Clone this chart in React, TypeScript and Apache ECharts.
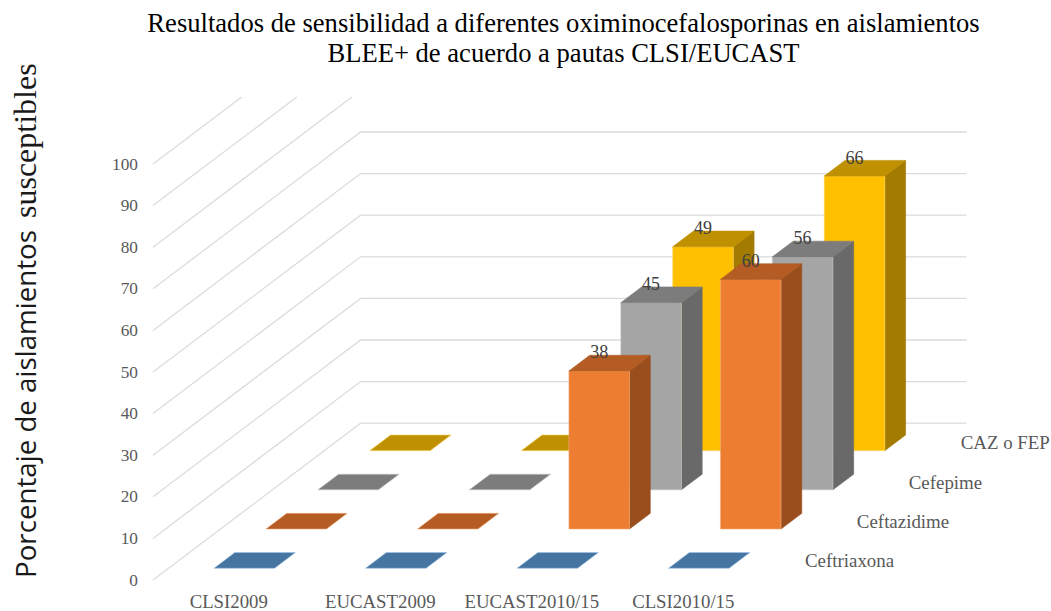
import React, { useEffect, useRef } from "react";
import * as echarts from "echarts";

const categories = ["CLSI2009", "EUCAST2009", "EUCAST2010/15", "CLSI2010/15"];
const ceftriaxona = [0, 0, 0, 0];
const ceftazidime = [0, 0, 38, 60];
const cefepime = [0, 0, 45, 56];
const cazOFep = [0, 0, 49, 66];
const gridTicks = [0, 10, 20, 30, 40, 50, 60, 70, 80, 90, 100];

const title =
  "Resultados de sensibilidad a diferentes oximinocefalosporinas en aislamientos\nBLEE+ de acuerdo a pautas CLSI/EUCAST";
const valueAxisTitleSans = "Porcentaje de aislamientos";
const valueAxisTitleSerif = "susceptibles";

const SERIF = '"Liberation Serif", "Times New Roman", serif';

// Oblique projection of the depth axis: screen offset per depth slot.
const SLOT_DX = 51.9;
const SLOT_DY = 39.2;
const SLOTS = 4;
const BAR_DEPTH = 0.4; // share of a slot taken by a bar
const BAR_WIDTH = 0.4; // share of a category taken by a bar
const WALL_TOP = 97;

type Shade = { front: string; top: string; side: string; edge: string };

const depthSeries: { name: string; values: number[]; slot: number; shade: Shade }[] = [
  { name: "CAZ o FEP", values: cazOFep, slot: 3, shade: { front: "#FFC000", top: "#BF9000", side: "#A37B00", edge: "#FFD966" } },
  { name: "Cefepime", values: cefepime, slot: 2, shade: { front: "#A5A5A5", top: "#7C7C7C", side: "#696969", edge: "#C9C9C9" } },
  { name: "Ceftazidime", values: ceftazidime, slot: 1, shade: { front: "#ED7D31", top: "#B45C23", side: "#9A4E1D", edge: "#F4B183" } },
  { name: "Ceftriaxona", values: ceftriaxona, slot: 0, shade: { front: "#5B9BD5", top: "#4675A1", side: "#3D6690", edge: "#9DC3E6" } },
];

const poly = (points: number[][], fill: string, edge: string) => ({
  type: "polygon",
  shape: { points },
  style: { fill, stroke: edge, lineWidth: 0.6 },
});

const renderBar = (slot: number, shade: Shade) => (_: unknown, api: any) => {
  const cat = api.value(0);
  const value = api.value(1);
  const catWidth = api.size([1, 0])[0];
  const base = api.coord([cat, 0]);
  const head = api.coord([cat, value]);
  const w = catWidth * BAR_WIDTH;
  const ox = (slot + (1 - BAR_DEPTH) / 2) * SLOT_DX;
  const oy = -(slot + (1 - BAR_DEPTH) / 2) * SLOT_DY;
  const dx = SLOT_DX * BAR_DEPTH;
  const dy = -SLOT_DY * BAR_DEPTH;
  const x0 = base[0] - w / 2 + ox;
  const x1 = x0 + w;
  const yB = base[1] + oy;
  const yT = head[1] + oy;

  const children: any[] = [];
  if (value > 0) {
    children.push(poly([[x1, yB], [x1 + dx, yB + dy], [x1 + dx, yT + dy], [x1, yT]], shade.side, shade.side));
    children.push(poly([[x0, yB], [x1, yB], [x1, yT], [x0, yT]], shade.front, shade.edge));
  }
  children.push(poly([[x0, yT], [x1, yT], [x1 + dx, yT + dy], [x0 + dx, yT + dy]], shade.top, value > 0 ? shade.top : shade.edge));
  if (value > 0) {
    children.push({
      type: "text",
      x: x0 + w / 2,
      y: yT - 18.5,
      style: {
        text: String(value),
        fill: "#404040",
        fontFamily: SERIF,
        fontSize: 18,
        textAlign: "center",
        textVerticalAlign: "middle",
      },
    });
  }
  return { type: "group", children };
};

// Side wall plus back wall rule for one tick, cut off at the top of the plot.
const renderGridLine = (_: unknown, api: any) => {
  const value = api.value(0);
  const start = api.coord([0, value]);
  const catWidth = api.size([1, 0])[0];
  const left = start[0] - catWidth / 2;
  const y = start[1];
  const cornerX = left + SLOT_DX * SLOTS;
  const cornerY = y - SLOT_DY * SLOTS;
  const rightX = cornerX + catWidth * categories.length;
  let points: number[][];
  if (cornerY >= WALL_TOP) {
    points = [[left, y], [cornerX, cornerY], [rightX, cornerY]];
  } else {
    const t = (y - WALL_TOP) / (y - cornerY);
    points = [[left, y], [left + t * (cornerX - left), WALL_TOP]];
  }
  return {
    type: "polyline",
    shape: { points },
    style: { stroke: "#DCDCDC", lineWidth: 1.3, fill: "none" },
  };
};

const renderDepthLabel = (_: unknown, api: any) => {
  const slot = api.value(0);
  const catWidth = api.size([1, 0])[0];
  const origin = api.coord([categories.length - 1, 0]);
  return {
    type: "text",
    x: origin[0] + catWidth / 2 + (slot + 0.5) * SLOT_DX + 20,
    y: origin[1] - (slot + 0.5) * SLOT_DY,
    style: {
      text: [...depthSeries].reverse()[slot].name,
      fill: "#595959",
      fontFamily: SERIF,
      fontSize: 18.9,
      textAlign: "left",
      textVerticalAlign: "middle",
    },
  };
};

export default function App() {
  const ref = useRef<HTMLDivElement>(null);

  useEffect(() => {
    document.body.style.margin = "0";
    const chart = echarts.init(ref.current!, undefined, { renderer: "svg" });
    chart.setOption({
      animation: false,
      backgroundColor: "#ffffff",
      title: {
        text: title,
        left: 558.5,
        top: 3,
        textAlign: "center",
        textStyle: { fontFamily: SERIF, fontSize: 26.6, fontWeight: "normal", color: "#000000", lineHeight: 30 },
      },
      grid: { left: 153, top: 164, width: 606, height: 416 },
      xAxis: {
        type: "category",
        data: categories,
        axisLine: { show: false },
        axisTick: { show: false },
        axisLabel: { color: "#595959", fontFamily: SERIF, fontSize: 18.8, margin: 12, interval: 0 },
      },
      yAxis: {
        type: "value",
        min: 0,
        max: 100,
        interval: 10,
        splitLine: { show: false },
        axisLine: { show: false },
        axisTick: { show: false },
        axisLabel: { color: "#595959", fontFamily: SERIF, fontSize: 17.3, margin: 15 },
      },
      graphic: [
        {
          type: "text",
          x: 24.5,
          y: 578,
          rotation: Math.PI / 2,
          style: {
            text: valueAxisTitleSans,
            fill: "#1A1A1A",
            fontFamily: '"Open Sans", sans-serif',
            fontSize: 27.7,
            textAlign: "left",
            textVerticalAlign: "middle",
          },
        },
        {
          type: "text",
          x: 24.5,
          y: 218,
          rotation: Math.PI / 2,
          style: {
            text: valueAxisTitleSerif,
            fill: "#1A1A1A",
            fontFamily: SERIF,
            fontSize: 32,
            textAlign: "left",
            textVerticalAlign: "middle",
          },
        },
      ],
      series: [
        {
          type: "custom",
          name: "grid",
          silent: true,
          clip: false,
          data: gridTicks.map((t) => [t]),
          encode: { y: 0 },
          renderItem: renderGridLine,
          z: 1,
        },
        ...depthSeries.map((s, i) => ({
          type: "custom",
          name: s.name,
          clip: false,
          data: s.values.map((v, c) => [c, v]),
          encode: { x: 0, y: 1 },
          renderItem: renderBar(s.slot, s.shade),
          z: 2 + i,
        })),
        {
          type: "custom",
          name: "depth",
          silent: true,
          clip: false,
          data: depthSeries.map((s) => [s.slot]),
          encode: { x: 0 },
          renderItem: renderDepthLabel,
          z: 8,
        },
      ],
    });
    return () => chart.dispose();
  }, []);

  return <div ref={ref} style={{ width: 1051, height: 611 }} />;
}
